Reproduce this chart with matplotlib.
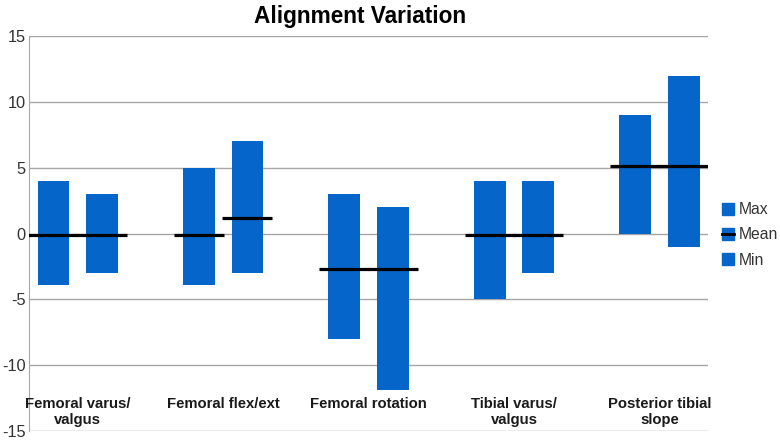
import matplotlib
matplotlib.use("Agg")
import matplotlib.pyplot as plt
from matplotlib.patches import Patch
from matplotlib.lines import Line2D

plt.rcParams['font.family'] = ['Liberation Sans', 'DejaVu Sans']

categories = ["Femoral varus/\nvalgus", "Femoral flex/ext", "Femoral rotation",
              "Tibial varus/\nvalgus", "Posterior tibial\nslope"]
max_vals = [4, 3, 5, 7, 3, 2, 4, 4, 9, 12]
min_vals = [-3.9, -3, -3.9, -3, -8, -11.9, -5, -3, 0, -1]
mean_vals = [-0.1, -0.1, -0.1, 1.2, -2.7, -2.7, -0.1, -0.1, 5.15, 5.15]
yticks = [-15, -10, -5, 0, 5, 10, 15]

bar_color = '#0565c8'
pos = []
for i in range(len(categories)):
    pos += [3 * i, 3 * i + 1]

fig = plt.figure(figsize=(7.8, 4.4), dpi=100)
ax = fig.add_axes([0.0372, 0.0205, 0.8705, 0.8975])

heights = [mx - mn for mx, mn in zip(max_vals, min_vals)]
ax.bar(pos, heights, bottom=min_vals, width=0.65, color=bar_color, zorder=2)
ax.hlines(mean_vals, [p - 0.52 for p in pos], [p + 0.52 for p in pos],
          colors='black', linewidth=2.3, zorder=3)

ax.set_xlim(-0.5, 13.5)
ax.set_ylim(-15, 15)
ax.set_yticks(yticks)
ax.set_yticklabels([str(t) for t in yticks], fontsize=11.8, color='#333333')
ax.tick_params(axis='y', length=0, pad=2.5)
ax.set_xticks([])
ax.grid(axis='y', color='#a6a6a6', linewidth=1.0, zorder=0)
for s in ['top', 'right', 'bottom']:
    ax.spines[s].set_visible(False)
ax.spines['left'].set_color('#a6a6a6')

for i, c in enumerate(categories):
    ax.text(3 * i + 0.5, -12.45, c, ha='center', va='top', fontsize=10.7,
            fontweight='bold', color='#1a1a1a', linespacing=1.15, zorder=4)

fig.text(0.462, 0.963, "Alignment Variation", ha='center', va='center',
         fontsize=16.3, fontweight='bold', color='black')

h_max = Patch(color=bar_color)
h_mean = (Patch(color=bar_color), Line2D([], [], color='black', linewidth=2))
h_min = Patch(color=bar_color)
fig.legend([h_max, h_mean, h_min], ['Max', 'Mean', 'Min'],
           loc='center left', bbox_to_anchor=(0.926, 0.466), frameon=False,
           fontsize=11.3, handlelength=0.75, handleheight=0.75, handletextpad=0.3,
           labelspacing=0.65, labelcolor='#333333', borderaxespad=0, borderpad=0)

fig.savefig('out.png', dpi=100)
